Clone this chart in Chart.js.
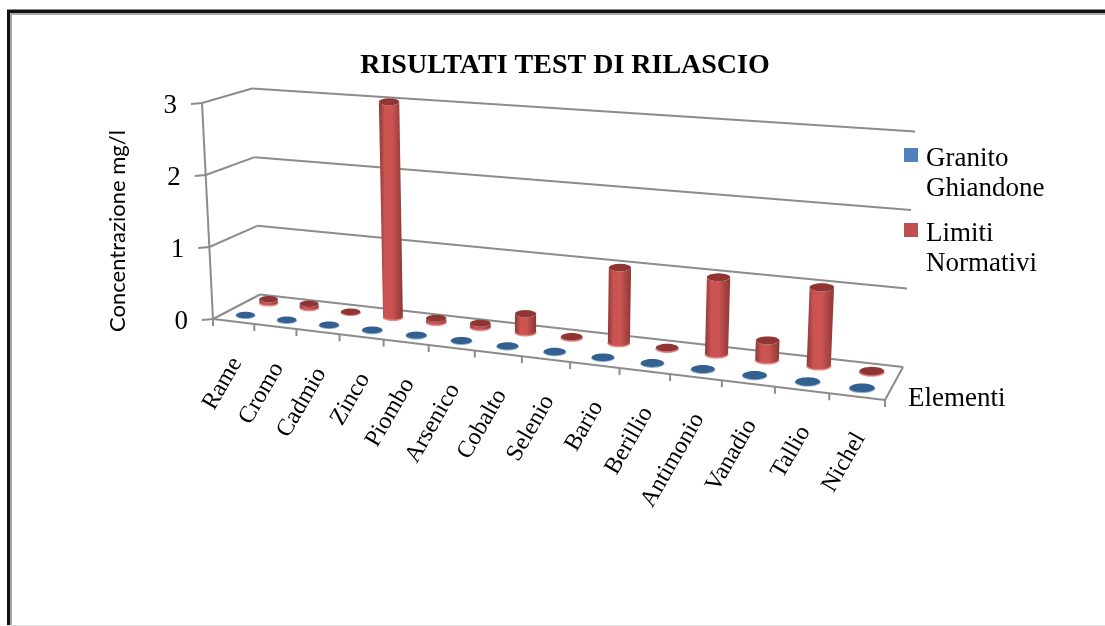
<!DOCTYPE html>
<html lang="it">
<head>
<meta charset="utf-8">
<title>Risultati test di rilascio</title>
<script src="https://cdn.jsdelivr.net/npm/chart.js@4"></script>
<style>
html, body { margin: 0; padding: 0; background: #fff; overflow: hidden; }
#frame { position: absolute; left: 7px; top: 10px; width: 1200px; height: 616px; border-left: 3px solid #111; border-top: 3px solid #111; box-shadow: inset 2px 2px 0 #a8a8a8, 0 -1px 0 #888; }
#line { position: absolute; left: 7px; top: 625px; width: 1100px; height: 1px; background: #ddd; }
canvas { position: absolute; left: 0; top: 0; }
</style>
</head>
<body>
<div id="frame"></div>
<div id="line"></div>
<canvas id="rilascio" width="1105" height="626"></canvas>
<script>
var categories = ['Rame', 'Cromo', 'Cadmio', 'Zinco', 'Piombo', 'Arsenico', 'Cobalto', 'Selenio', 'Bario', 'Berillio', 'Antimonio', 'Vanadio', 'Tallio', 'Nichel'];
var granitoGhiandone = [0.002, 0.002, 0.002, 0.002, 0.003, 0.002, 0.002, 0.002, 0.002, 0.004, 0.003, 0.003, 0.002, 0.004];
var limitiNormativi = [0.05, 0.05, 0.005, 3, 0.05, 0.05, 0.25, 0.01, 1, 0.01, 1, 0.25, 1, 0.01];
var yTicks = [0, 1, 2, 3];
var yTitle = 'Concentrazione mg/l';
var depthTitle = 'Elementi';

var serif = '"Liberation Serif"';

// box corners on screen: floor and the plane at the top of the value axis
var floorBox = { fl: [213, 319], fr: [885, 400], br: [903, 367], bl: [260, 294.5] };
var topBox = { fl: [202, 103], fr: [895, 151], br: [915, 131.5], bl: [252, 88.5] };

// square -> quad homography
function homography(q) {
	var sx = q.fl[0] - q.fr[0] + q.br[0] - q.bl[0];
	var sy = q.fl[1] - q.fr[1] + q.br[1] - q.bl[1];
	var dx1 = q.fr[0] - q.br[0], dy1 = q.fr[1] - q.br[1];
	var dx2 = q.bl[0] - q.br[0], dy2 = q.bl[1] - q.br[1];
	var det = dx1 * dy2 - dx2 * dy1;
	var g = (sx * dy2 - dx2 * sy) / det;
	var h = (dx1 * sy - sx * dy1) / det;
	var a = q.fr[0] - q.fl[0] + g * q.fr[0], b = q.bl[0] - q.fl[0] + h * q.bl[0], c = q.fl[0];
	var d = q.fr[1] - q.fl[1] + g * q.fr[1], e = q.bl[1] - q.fl[1] + h * q.bl[1], f = q.fl[1];
	return function(u, v) {
		var w = g * u + h * v + 1;
		return [(a * u + b * v + c) / w, (d * u + e * v + f) / w];
	};
}
var floorAt = homography(floorBox);
var topAt = homography(topBox);

// u along the categories, depth front to back, level 0..1 up the value axis
function project(u, depth, level) {
	var p = floorAt(u, depth), q = topAt(u, depth);
	return [p[0] + (q[0] - p[0]) * level, p[1] + (q[1] - p[1]) * level];
}

// flat screen ellipse, its width taken from the projected bar width
function ring(u, depth, level, from, to) {
	var ru = 0.0165;
	var c = project(u, depth, level);
	var rx = (project(u + ru, depth, level)[0] - project(u - ru, depth, level)[0]) / 2;
	var ry = rx * 0.34;
	var pts = [];
	for (var i = 0; i <= 32; i++) {
		var t = from + (to - from) * i / 32;
		pts.push([c[0] + rx * Math.cos(t), c[1] + ry * Math.sin(t)]);
	}
	return pts;
}

function trace(ctx, pts, start) {
	pts.forEach(function(p, i) {
		if (i === 0 && start) ctx.moveTo(p[0], p[1]); else ctx.lineTo(p[0], p[1]);
	});
}

function drawCylinder(ctx, u, depth, level, look) {
	// front of the base runs left to right, then back along the top
	var base = ring(u, depth, 0, Math.PI, 0);
	var head = ring(u, depth, level, 0, 2 * Math.PI);
	var xs = head.concat(base).map(function(p) { return p[0]; });
	var left = Math.min.apply(null, xs), right = Math.max.apply(null, xs);

	var grad = ctx.createLinearGradient(left, 0, right, 0);
	grad.addColorStop(0, look.edge);
	grad.addColorStop(0.25, look.side);
	grad.addColorStop(0.55, look.side);
	grad.addColorStop(1, look.edge);
	ctx.beginPath();
	trace(ctx, base, true);
	trace(ctx, ring(u, depth, level, 0, Math.PI), false);
	ctx.closePath();
	ctx.fillStyle = grad;
	ctx.fill();

	ctx.beginPath();
	trace(ctx, base, true);
	ctx.strokeStyle = look.lip;
	ctx.lineWidth = 1.5;
	ctx.stroke();

	ctx.beginPath();
	trace(ctx, head, true);
	ctx.closePath();
	ctx.fillStyle = look.top;
	ctx.fill();
}

var looks = [
	{ depth: 0.25, side: '#5f8cc4', edge: '#3a6595', top: '#33608f', lip: '#8fb0d8' },
	{ depth: 0.75, side: '#cb5452', edge: '#8c3836', top: '#8f3533', lip: '#e58a88' }
];

function axisLine(ctx, a, b) {
	ctx.beginPath();
	ctx.moveTo(a[0], a[1]);
	ctx.lineTo(b[0], b[1]);
	ctx.stroke();
}

var box3d = {
	id: 'box3d',
	beforeDatasetsDraw: function(chart) {
		var ctx = chart.ctx, y = chart.scales.y;
		ctx.save();
		ctx.strokeStyle = '#8c8c8c';
		ctx.lineWidth = 2;
		// wall lines follow the value axis ticks
		y.ticks.forEach(function(t) {
			var level = (y.bottom - y.getPixelForValue(t.value)) / (y.bottom - y.top);
			var front = project(0, 0, level), back = project(0, 1, level), end = project(1, 1, level);
			axisLine(ctx, [front[0] - 11, front[1] + 1], front);
			axisLine(ctx, front, back);
			axisLine(ctx, back, end);
		});
		axisLine(ctx, project(0, 0, 0), project(0, 0, 1));
		axisLine(ctx, project(0, 0, 0), project(1, 0, 0));
		axisLine(ctx, project(1, 0, 0), project(1, 1, 0));
		categories.concat(['']).forEach(function(c, i) {
			var p = project(i / categories.length, 0, 0);
			axisLine(ctx, p, [p[0], p[1] + 7]);
		});
		ctx.restore();
	},
	beforeDatasetDraw: function(chart, args) {
		var ctx = chart.ctx, area = chart.chartArea, look = looks[args.index];
		ctx.save();
		chart.getDatasetMeta(args.index).data.forEach(function(bar) {
			var u = (bar.x - area.left) / (area.right - area.left);
			var level = (bar.base - bar.y) / (area.bottom - area.top);
			drawCylinder(ctx, u, look.depth, level, look);
		});
		ctx.restore();
		return false;
	},
	afterDraw: function(chart) {
		var ctx = chart.ctx, x = chart.scales.x, y = chart.scales.y, area = chart.chartArea;
		ctx.save();
		ctx.fillStyle = '#000';

		// category labels hang off the front edge of the floor
		ctx.font = '24px ' + serif;
		ctx.textAlign = 'right';
		ctx.textBaseline = 'middle';
		categories.forEach(function(c, i) {
			var u = (x.getPixelForValue(i) - area.left) / (area.right - area.left);
			var p = project(u, 0, 0);
			ctx.save();
			ctx.translate(p[0] + 3, p[1] + 38);
			ctx.rotate(-60 * Math.PI / 180);
			ctx.fillText(x.getLabelForValue(i), 0, 0);
			ctx.restore();
		});

		// value labels lean with the front wall edge
		ctx.font = '27px ' + serif;
		y.ticks.forEach(function(t) {
			var level = (y.bottom - y.getPixelForValue(t.value)) / (y.bottom - y.top);
			var p = project(0, 0, level);
			ctx.fillText(String(t.value), p[0] - 25, p[1] + 3);
		});

		ctx.save();
		ctx.translate(118, 231);
		ctx.rotate(-Math.PI / 2);
		ctx.textAlign = 'center';
		ctx.font = '22px Lato';
		ctx.fillText(yTitle, 0, 0);
		ctx.restore();

		ctx.textAlign = 'left';
		ctx.font = '27px ' + serif;
		ctx.fillText(depthTitle, 908, 399);

		// two line legend entries
		var rowTop = [159, 234];
		chart.data.datasets.forEach(function(ds, k) {
			ctx.fillStyle = ds.backgroundColor;
			ctx.fillRect(904, rowTop[k] - 11, 14, 14);
			ctx.fillStyle = '#000';
			ds.label.split(' ').forEach(function(word, n) {
				ctx.fillText(word, 926, rowTop[k] + n * 30);
			});
		});
		ctx.restore();
	}
};

new Chart(document.getElementById('rilascio'), {
	type: 'bar',
	plugins: [box3d],
	data: {
		labels: categories,
		datasets: [
			{ label: 'Granito Ghiandone', data: granitoGhiandone, backgroundColor: '#4f81bd' },
			{ label: 'Limiti Normativi', data: limitiNormativi, backgroundColor: '#c0504d' }
		]
	},
	options: {
		responsive: false,
		animation: false,
		grouped: false,
		layout: { padding: { top: 49, bottom: 306, left: 25, right: 0 } },
		plugins: {
			tooltip: { enabled: false },
			legend: { display: false },
			title: {
				display: true,
				text: 'RISULTATI TEST DI RILASCIO',
				color: '#000',
				font: { family: serif, size: 28, weight: 'bold' },
				padding: { top: 0, bottom: 20.4 }
			}
		},
		scales: {
			x: { display: false, ticks: { autoSkip: false } },
			y: {
				display: false,
				min: 0,
				max: 3,
				afterBuildTicks: function(axis) { axis.ticks = yTicks.map(function(v) { return { value: v }; }); }
			}
		}
	}
});
</script>
</body>
</html>
